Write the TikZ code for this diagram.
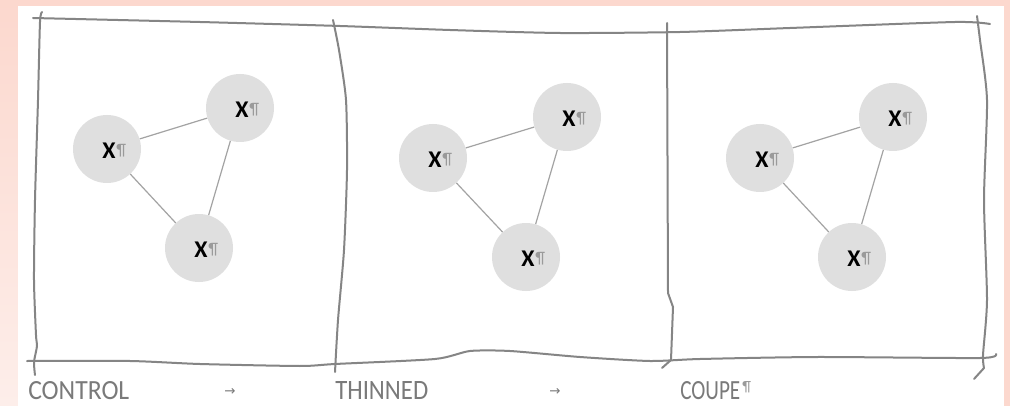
\documentclass[tikz,border=0pt]{standalone}
\usepackage{fontspec}
\setmainfont{Carlito}
\newfontfamily\arrowfont{DejaVu Sans}
\definecolor{pinkbg}{HTML}{FCD8CE}
\definecolor{pinklight}{HTML}{FDEEEA}
\definecolor{linegray}{HTML}{858585}
\definecolor{circgray}{HTML}{DFDFDF}
\definecolor{edgegray}{HTML}{A3A3A3}
\definecolor{pilgray}{HTML}{9A9A9A}
\definecolor{labgray}{HTML}{7A7A7A}
\tikzset{
  sketch/.style={draw=linegray, line width=1.5pt, line join=round, line cap=round},
  circ/.style={circle, fill=circgray, minimum size=51pt, inner sep=0pt},
  edge/.style={draw=edgegray, line width=0.9pt},
  xlbl/.style={inner sep=0pt, font=\fontsize{18}{20}\selectfont},
  caption/.style={inner sep=0pt, anchor=base west, text=labgray},
  arrowlbl/.style={inner sep=0pt, text=labgray, font=\arrowfont\fontsize{10}{12}\selectfont}
}
\newcommand{\xmark}{{\bfseries X}\hspace{0.6pt}{\color{pilgray}\raisebox{1.6pt}{\resizebox{!}{8.4pt}{¶}}}}
\begin{document}
\begin{tikzpicture}[x=0.75pt, y=-0.75pt]
\useasboundingbox (0,0) rectangle (1010,406);
% background
\fill[pinkbg] (0,0) rectangle (1010,406);
\shade[top color=pinkbg, bottom color=pinklight] (0,0) rectangle (18,406);
\fill[white] (18,6) rectangle (1004,406);

% hand-drawn frame
\draw[sketch] plot[smooth, tension=0.4] coordinates {(33,18) (200,22) (340,26) (450,30) (560,33) (680,32) (790,28) (955,22) (990,24)};
\draw[sketch] plot[smooth, tension=0.4] coordinates {(27,361) (130,361) (200,364) (300,366) (335,364) (435,359) (470,351) (510,351) (580,357) (650,361) (700,359) (817,357) (980,358) (996,354)};
\draw[sketch] plot[smooth, tension=0.4] coordinates {(42,12) (40,22) (38,100) (35,200) (34,280) (36,335) (37,346) (34,362) (35,375)};
\draw[sketch] plot[smooth, tension=0.4] coordinates {(333,20) (339,50) (346,100) (347,170) (344,250) (338,320) (335,372)};
\draw[sketch] (667,23) -- (668,293) -- (673,307) -- (671,360) -- (662,368);
\draw[sketch] plot[smooth, tension=0.4] coordinates {(977,16) (980,40) (987,100) (984,200) (987,300) (983,355) (984,368)} -- (974,379);

% panel 1
\node[circ] (a1) at (107,149) {};
\node[circ] (a2) at (240,108) {};
\node[circ] (a3) at (199,248) {};
% panel 2
\node[circ] (b1) at (433,158) {};
\node[circ] (b2) at (567,117) {};
\node[circ] (b3) at (526,257) {};
% panel 3
\node[circ] (c1) at (760,158) {};
\node[circ] (c2) at (893,117) {};
\node[circ] (c3) at (852,257) {};

\foreach \p in {a,b,c}{
  \draw[edge] (\p1) -- (\p2);
  \draw[edge] (\p2) -- (\p3);
  \draw[edge] (\p3) -- (\p1);
  \foreach \i in {1,2,3}{
    \node[xlbl] (\p\i t) at ([xshift=5.5pt, yshift=-1pt]\p\i.center) {\xmark};
  }
}

% captions
\node[caption] (cap1) at (28,399) {\resizebox{75.75pt}{13.5pt}{CONTROL}};
\node[caption] (cap2) at (335,399) {\resizebox{69.75pt}{13.5pt}{THINNED}};
\node[caption] (cap3) at (680,399) {\resizebox{45pt}{13.5pt}{COUPE}\hspace{1.5pt}{\color{pilgray}\raisebox{6pt}{\resizebox{!}{7.5pt}{¶}}}};
\node[arrowlbl] (arr1) at (230,392) {→};
\node[arrowlbl] (arr2) at (555,392) {→};
\end{tikzpicture}
\end{document}
